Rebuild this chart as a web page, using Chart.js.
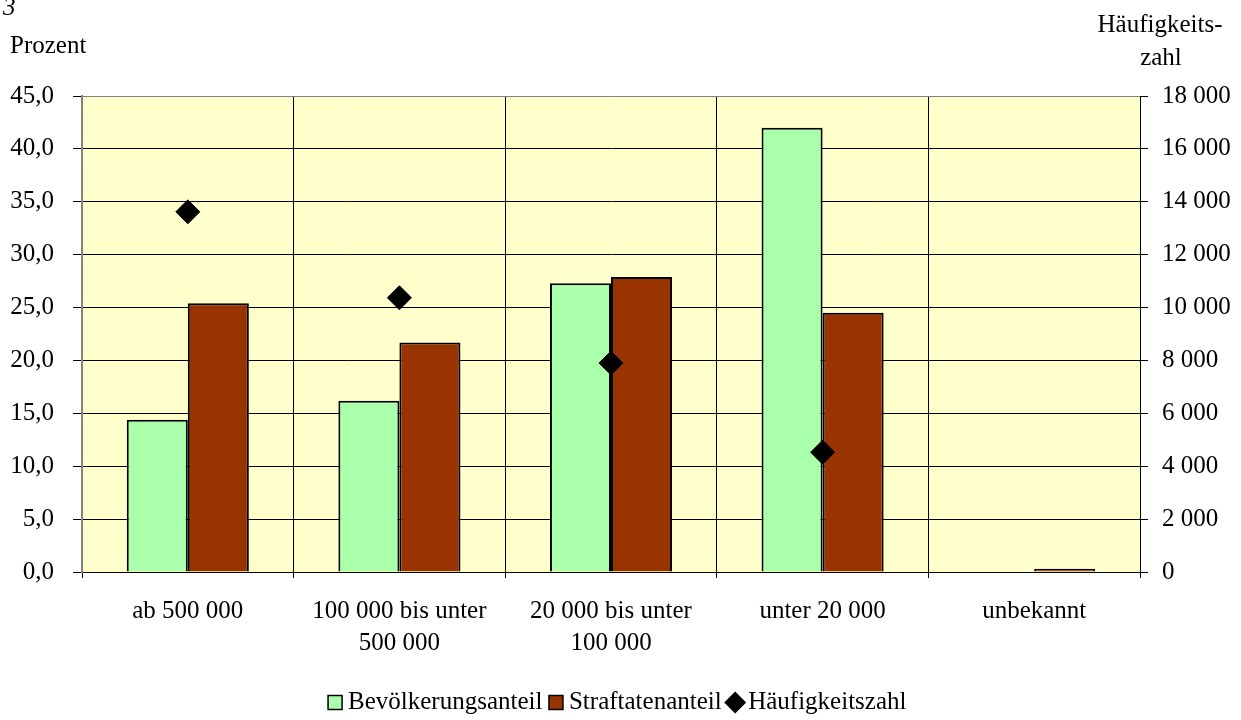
<!DOCTYPE html>
<html><head><meta charset="utf-8">
<script src="https://cdn.jsdelivr.net/npm/chart.js@4"></script>
<style>
html,body{margin:0;padding:0;background:#fff;}
#wrap{position:relative;width:1241px;height:720px;overflow:hidden;}
canvas{position:absolute;left:0;top:0;}
.t{position:absolute;font-family:"Liberation Serif","Times New Roman",serif;font-size:25px;line-height:25px;color:#000;white-space:nowrap;}
</style></head><body>
<div id="wrap">
<canvas id="c" width="1241" height="720"></canvas>
<div class="t" style="left:3px;top:-6px;font-style:italic;">3</div>
<div class="t" style="left:10px;top:32px;">Prozent</div>
<div class="t" style="left:1060px;width:200px;text-align:center;top:11px;">Häufigkeits-</div>
<div class="t" style="left:1061px;width:200px;text-align:center;top:44px;">zahl</div>
</div>
<script>
const categories = [["ab 500 000"], ["100 000 bis unter", "500 000"], ["20 000 bis unter", "100 000"], ["unter 20 000"], ["unbekannt"]];
const bevoelkerungsanteil = [14.4, 16.2, 27.3, 42.0, 0];
const straftatenanteil = [25.4, 21.7, 27.9, 24.5, 0.3];
const haeufigkeitszahl = [13620, 10370, 7900, 4530, null];
const seriesNames = ["Bevölkerungsanteil", "Straftatenanteil", "Häufigkeitszahl"];

Chart.defaults.font.family = '"Liberation Serif", "Times New Roman", serif';
Chart.defaults.font.size = 25;
Chart.defaults.color = '#000';

const bgPlugin = {
  id: 'bg',
  beforeDraw(chart) {
    const {ctx, chartArea: a} = chart;
    ctx.save();
    ctx.fillStyle = '#FFFFCC';
    ctx.fillRect(a.left, a.top, a.right - a.left, a.bottom - a.top);
    ctx.restore();
  }
};

const fmtThousands = v => String(v).replace(/\B(?=(\d{3})+(?!\d))/g, ' ');

new Chart(document.getElementById('c'), {
  data: {
    labels: categories,
    datasets: [
      {
        type: 'bar', label: seriesNames[0], data: bevoelkerungsanteil,
        backgroundColor: '#AAFFAA', borderColor: '#000', borderWidth: 2,
        barPercentage: 1, categoryPercentage: 0.577, yAxisID: 'y', order: 1
      },
      {
        type: 'bar', label: seriesNames[1], data: straftatenanteil,
        backgroundColor: '#993300', borderColor: '#000', borderWidth: 2,
        barPercentage: 1, categoryPercentage: 0.577, yAxisID: 'y', order: 1
      },
      {
        type: 'line', label: seriesNames[2], data: haeufigkeitszahl,
        showLine: false, pointStyle: 'rectRot', pointRadius: 12, pointHoverRadius: 12,
        backgroundColor: '#000', borderColor: '#000', borderWidth: 1,
        yAxisID: 'y1', order: 0
      }
    ]
  },
  options: {
    responsive: false,
    animation: false,
    devicePixelRatio: 1,
    layout: { padding: { top: 96, left: 0, right: 0, bottom: -5 } },
    plugins: {
      tooltip: { enabled: false },
      legend: {
        position: 'bottom',
        labels: {
          usePointStyle: true, boxWidth: 1, boxHeight: 14, padding: 13,
          font: { size: 25 }, color: '#000',
          generateLabels(chart) {
            const items = Chart.defaults.plugins.legend.labels.generateLabels(chart);
            items.forEach(it => {
              it.pointStyle = it.datasetIndex === 2 ? 'rectRot' : 'rect';
              it.strokeStyle = '#000';
              it.lineWidth = 1.5;
            });
            return items.sort((a, b) => a.datasetIndex - b.datasetIndex);
          }
        }
      }
    },
    scales: {
      x: {
        offset: true,
        grid: { offset: true, color: '#000', lineWidth: 1, tickLength: 6, tickColor: '#000' },
        border: { color: '#000', width: 1 },
        ticks: { font: { size: 25, lineHeight: 1.3 }, padding: 17, maxRotation: 0, autoSkip: false },
        afterFit(scale) { scale.height = 105; }
      },
      y: {
        position: 'left', min: 0, max: 45,
        ticks: { stepSize: 5, padding: 19, callback: v => v.toFixed(1).replace('.', ',') },
        grid: {
          color: ctx => (ctx.tick && ctx.tick.value === 45) ? '#808080' : '#000',
          tickColor: '#000', lineWidth: 1, tickLength: 9
        },
        border: { color: '#808080', width: 2 },
        afterFit(scale) { scale.width = 82; }
      },
      y1: {
        position: 'right', min: 0, max: 18000,
        ticks: { stepSize: 2000, padding: 14, callback: v => fmtThousands(v) },
        grid: { drawOnChartArea: false, tickColor: '#000', tickLength: 8 },
        border: { color: '#000', width: 1 },
        afterFit(scale) { scale.width = 101; }
      }
    }
  },
  plugins: [bgPlugin]
});
</script>
</body></html>
